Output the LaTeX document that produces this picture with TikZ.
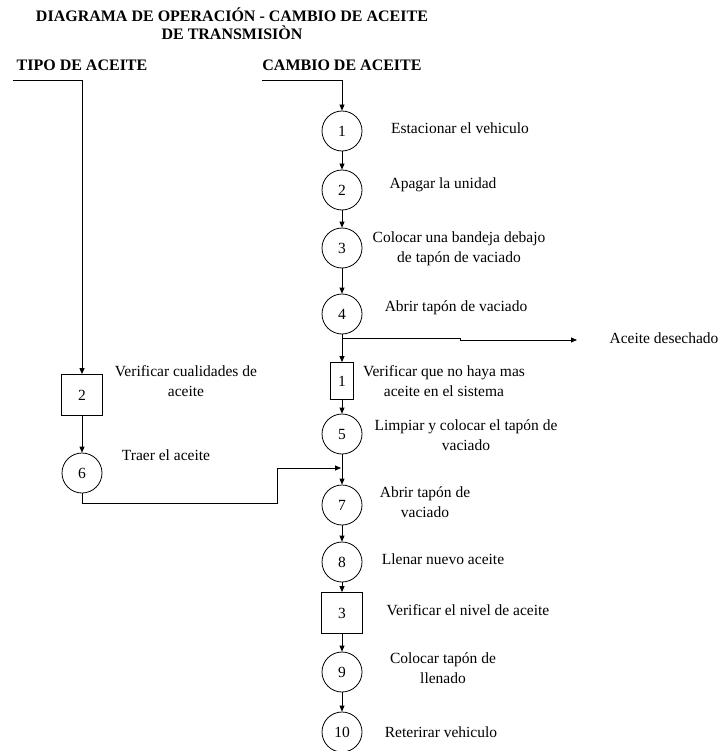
\documentclass[tikz,border=0pt]{standalone}
\usepackage{fontspec}
\setmainfont{Liberation Serif}
\usetikzlibrary{arrows.meta}
\tikzstyle{opcircle}=[draw,circle,minimum size=40pt,inner sep=0pt]
\tikzstyle{inspbox}=[draw,rectangle,minimum width=41pt,minimum height=41pt,inner sep=0pt]
\tikzstyle{flowline}=[-{Triangle[length=6pt,width=5pt]}]
\tikzstyle{steptext}=[align=center,inner sep=0pt]
\tikzstyle{headtext}=[font=\fontsize{16}{19}\selectfont\bfseries,inner sep=0pt]
\newcommand{\colx}{342} % x of the main column

\begin{document}
\begin{tikzpicture}[x=1pt,y=-1pt,line width=0.8pt,font=\fontsize{15.5}{20}\selectfont]
	\useasboundingbox (0,0) rectangle (723,751);
	% titles
	\node[headtext] (title) at (232,15) {DIAGRAMA DE OPERACIÓN - CAMBIO DE ACEITE};
	\node[headtext] (titleb) at (232,33) {DE TRANSMISIÒN};
	\node[headtext] (tipo) at (82,65) {TIPO DE ACEITE};
	\node[headtext] (cambio) at (\colx,65) {CAMBIO DE ACEITE};
	\coordinate (tipostart) at (13,80);
	\coordinate (cambiostart) at (262,80);
	% main column
	\node[opcircle] (c1) at (\colx,131) {1};
	\node[opcircle] (c2) at (\colx,190) {2};
	\node[opcircle] (c3) at (\colx,248) {3};
	\node[opcircle] (c4) at (\colx,314) {4};
	\node[inspbox,minimum width=23pt,minimum height=37pt] (s1) at (\colx,381) {1};
	\node[opcircle] (c5) at (\colx,434) {5};
	\node[opcircle] (c7) at (\colx,505) {7};
	\node[opcircle] (c8) at (\colx,562) {8};
	\node[inspbox] (s3) at (\colx,613) {3};
	\node[opcircle] (c9) at (\colx,672) {9};
	\node[opcircle] (c10) at (\colx,732) {10};
	% left column
	\node[inspbox] (s2) at (82,395) {2};
	\node[opcircle] (c6) at (82,473) {6};
	% step labels
	\node[steptext] (t1) at (460,128) {Estacionar el vehiculo};
	\node[steptext] (t2) at (443,185) {Apagar la unidad};
	\node[steptext] (t3) at (459,249) {Colocar una bandeja debajo\\de tapón de vaciado};
	\node[steptext] (t4) at (456,308) {Abrir tapón de vaciado};
	\node[steptext] (waste) at (664,338) {Aceite desechado};
	\node[steptext] (ts1) at (444,381) {Verificar que no haya mas\\aceite en el sistema};
	\node[steptext] (t5) at (466,435) {Limpiar y colocar el tapón de\\vaciado};
	\node[steptext] (t7) at (425,502) {Abrir tapón de\\vaciado};
	\node[steptext] (t8) at (443,559) {Llenar nuevo aceite};
	\node[steptext] (ts3) at (468,610) {Verificar el nivel de aceite};
	\node[steptext] (t9) at (443,668) {Colocar tapón de\\llenado};
	\node[steptext] (t10) at (441,732) {Reterirar vehiculo};
	\node[steptext] (ts2) at (186,381) {Verificar cualidades de\\aceite};
	\node[steptext] (t6) at (166,455) {Traer el aceite};
	% arrows
	\draw[flowline] (cambiostart) -| (c1);
	\foreach \a/\b in {c1/c2,c2/c3,c3/c4,c4/s1,s1/c5,c5/c7,c7/c8,c8/s3,s3/c9,c9/c10}
		\draw[flowline] (\a) -- (\b);
	\draw[flowline] (tipostart) -| (s2);
	\draw[flowline] (s2) -- (c6);
	%waste oil
	\coordinate (split) at (\colx,338);
	\coordinate (wasteend) at (577,340);
	\draw[flowline] (split) -- (460,338) -- (460,340) -- (wasteend);
	%new oil joins before 7
	\coordinate (join) at (341,468);
	\draw[flowline] (c6.south) |- (277,503) |- (join);
\end{tikzpicture}
\end{document}
